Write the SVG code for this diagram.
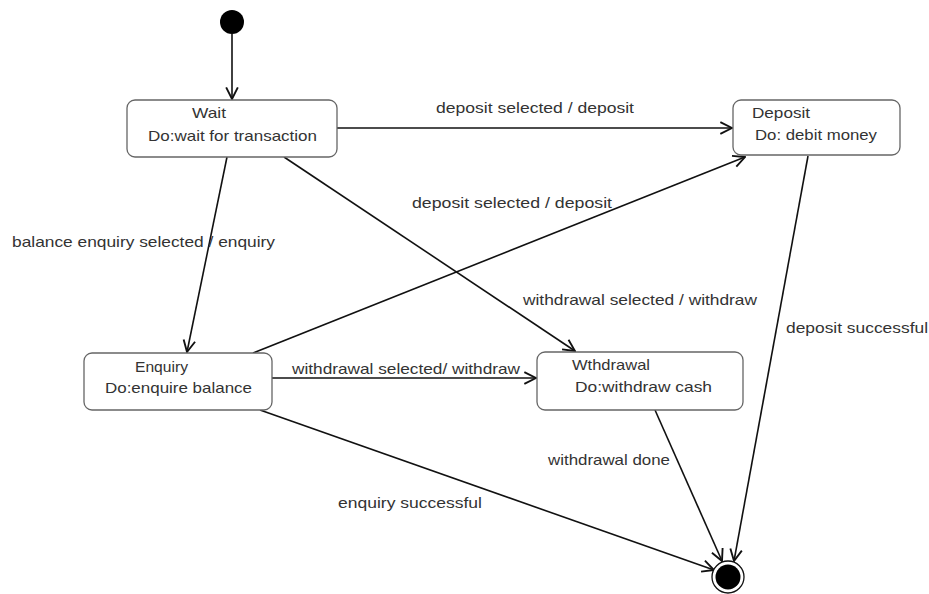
<svg xmlns="http://www.w3.org/2000/svg" width="929" height="594" viewBox="0 0 929 594">
<style>
.box{fill:#fff;stroke:#666;stroke-width:1.3}
.t{font-family:"Liberation Sans",Arial,sans-serif;font-size:14.5px;fill:#333}
.e{fill:none;stroke:#111;stroke-width:1.6;marker-end:url(#arr)}
</style>
<defs>
<marker id="arr" markerUnits="userSpaceOnUse" markerWidth="14" markerHeight="14" viewBox="0 0 12 12" refX="11" refY="6" orient="auto">
<path d="M1,1 L11,6 L1,11" fill="none" stroke="#111" stroke-width="1.6"/>
</marker>
</defs>
<rect width="929" height="594" fill="#fff"/>
<g id="edges">
<line class="e" x1="232" y1="34" x2="232" y2="99"/>
<line class="e" x1="337" y1="128" x2="732" y2="128"/>
<line class="e" x1="227" y1="157" x2="187" y2="352"/>
<line class="e" x1="284" y1="157" x2="575" y2="351"/>
<line class="e" x1="253" y1="353" x2="745" y2="157"/>
<line class="e" x1="272" y1="378" x2="536" y2="378"/>
<line class="e" x1="260" y1="410" x2="714" y2="570"/>
<line class="e" x1="655" y1="410" x2="722" y2="561"/>
<line class="e" x1="808" y1="156" x2="734" y2="561"/>
<text class="t" x="436" y="113" textLength="198" lengthAdjust="spacingAndGlyphs">deposit selected / deposit</text>
<text class="t" x="412" y="208" textLength="200" lengthAdjust="spacingAndGlyphs">deposit selected / deposit</text>
<text class="t" x="12" y="247" textLength="263" lengthAdjust="spacingAndGlyphs">balance enquiry selected / enquiry</text>
<text class="t" x="523" y="305" textLength="234" lengthAdjust="spacingAndGlyphs">withdrawal selected / withdraw</text>
<text class="t" x="786" y="333" textLength="142" lengthAdjust="spacingAndGlyphs">deposit successful</text>
<text class="t" x="292" y="374" textLength="228" lengthAdjust="spacingAndGlyphs">withdrawal selected/ withdraw</text>
<text class="t" x="548" y="465" textLength="122" lengthAdjust="spacingAndGlyphs">withdrawal done</text>
<text class="t" x="338" y="508" textLength="144" lengthAdjust="spacingAndGlyphs">enquiry successful</text>
</g>
<g id="initial">
<circle cx="232" cy="22" r="12" fill="#000"/>
</g>
<g id="wait">
<rect class="box" x="127" y="100" width="210" height="57" rx="8"/>
<text class="t" x="192" y="118" textLength="34" lengthAdjust="spacingAndGlyphs">Wait</text>
<text class="t" x="148" y="141" textLength="169" lengthAdjust="spacingAndGlyphs">Do:wait for transaction</text>
</g>
<g id="deposit">
<rect class="box" x="733" y="100" width="167" height="55" rx="8"/>
<text class="t" x="752" y="118" textLength="58" lengthAdjust="spacingAndGlyphs">Deposit</text>
<text class="t" x="755" y="140" textLength="122" lengthAdjust="spacingAndGlyphs">Do: debit money</text>
</g>
<g id="enquiry">
<rect class="box" x="84" y="353" width="188" height="57" rx="8"/>
<text class="t" x="135" y="372" textLength="53" lengthAdjust="spacingAndGlyphs">Enquiry</text>
<text class="t" x="105" y="393" textLength="147" lengthAdjust="spacingAndGlyphs">Do:enquire balance</text>
</g>
<g id="withdrawal">
<rect class="box" x="537" y="352" width="206" height="58" rx="8"/>
<text class="t" x="572" y="370" textLength="78" lengthAdjust="spacingAndGlyphs">Wthdrawal</text>
<text class="t" x="575" y="392" textLength="137" lengthAdjust="spacingAndGlyphs">Do:withdraw cash</text>
</g>
<g id="final">
<circle cx="728" cy="577" r="16" fill="#fff" stroke="#111" stroke-width="1.3"/>
<circle cx="728" cy="577" r="12.5" fill="#000"/>
</g>
</svg>
